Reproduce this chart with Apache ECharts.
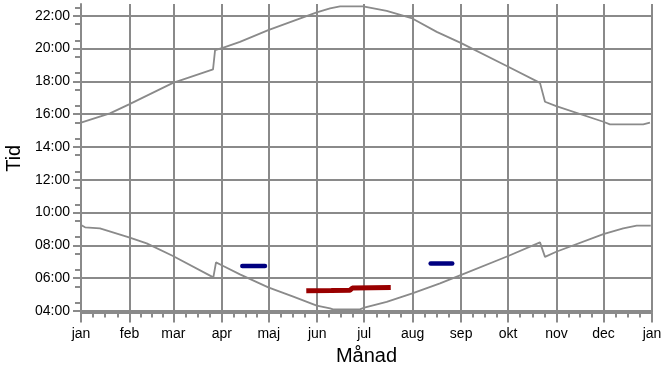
<!DOCTYPE html>
<html>
<head>
<meta charset="utf-8">
<script src="https://cdn.jsdelivr.net/npm/echarts@6/dist/echarts.min.js"></script>
<style>
  html, body { margin: 0; padding: 0; background: #fff; }
  #main { width: 662px; height: 367px; }
</style>
</head>
<body>
<div id="main"></div>
<script>
// dag på året (0 = 1 jan), tid i timmar
var monthStarts = [0, 31, 59, 90, 120, 151, 181, 212, 243, 273, 304, 334, 365];
var monthLabels = ['jan', 'feb', 'mar', 'apr', 'maj', 'jun', 'jul', 'aug', 'sep', 'okt', 'nov', 'dec', 'jan'];
var hourTicks = [4, 6, 8, 10, 12, 14, 16, 18, 20, 22];

// solnedgång
var sunset = [
    [0, 15.48], [18.5, 16.05], [30.7, 16.6], [58.8, 17.91], [84.4, 18.73],
    [85.7, 19.91], [90.6, 20.05], [101.6, 20.41], [119.7, 21.13], [150.7, 22.21],
    [159.2, 22.45], [165.6, 22.57], [180.3, 22.57], [195.4, 22.3], [211.8, 21.84],
    [227.4, 21.02], [242.7, 20.35], [273.1, 18.89], [293.4, 17.91], [296.6, 16.76],
    [303.8, 16.49], [333.9, 15.54], [338.1, 15.38], [359.4, 15.38], [363.7, 15.48]
];

// soluppgång
var sunrise = [
    [0, 9.24], [2.6, 9.1], [12.1, 9.04], [30.7, 8.49], [42, 8.12], [58.8, 7.35],
    [84.6, 6.05], [86.3, 6.96], [90.6, 6.76], [101.6, 6.23], [119.7, 5.44],
    [135.7, 4.87], [150.7, 4.32], [159.2, 4.16], [161.1, 4.1], [178.3, 4.1],
    [181.1, 4.2], [195.4, 4.56], [211.8, 5.07], [229.5, 5.68], [242.7, 6.19],
    [273.1, 7.35], [293.4, 8.18], [296.6, 7.3], [303.8, 7.61], [333.9, 8.69],
    [346.6, 9.04], [355.2, 9.2], [364.2, 9.2]
];

var blueSpring = [[103.1, 6.74], [117.6, 6.74]];
var blueAutumn = [[223.5, 6.9], [237.3, 6.9]];
var redSummer = [[144, 5.23], [160, 5.25], [172, 5.27], [173.5, 5.4], [186, 5.42], [198, 5.43]];

var minorDays = [];
for (let i = 0; i < 12; i++) {
    let len = monthStarts[i + 1] - monthStarts[i];
    for (let k = 1; k < 4; k++) {
        minorDays.push(monthStarts[i] + len * k / 4);
    }
}
var minorHours = [];
for (let h = 4.5; h <= 22.5; h += 1) {
    minorHours.push(h);
}

var gridGray = '#8a8a8a';
var font = 'Liberation Sans';

var myChart = echarts.init(document.getElementById('main'));

var option = {
    animation: false,
    grid: { left: 81, right: 10, top: 4, bottom: 54.4, containLabel: false, outerBoundsMode: 'none' },
    xAxis: [
        {
            type: 'value',
            min: 0,
            max: 365,
            position: 'bottom',
            name: 'Månad',
            nameLocation: 'middle',
            nameGap: 34,
            nameTextStyle: { fontFamily: font, fontSize: 20, color: '#000' },
            axisLine: { show: true, lineStyle: { color: gridGray, width: 2 } },
            axisTick: { show: true, customValues: monthStarts, length: 10, lineStyle: { color: gridGray, width: 2 } },
            axisLabel: {
                customValues: monthStarts,
                margin: 15,
                fontFamily: font,
                fontSize: 14,
                color: '#000',
                formatter: function (v) {
                    return monthLabels[monthStarts.indexOf(v)];
                }
            },
            splitLine: { show: true, lineStyle: { color: gridGray, width: 2 } }
        },
        {
            type: 'value',
            min: 0,
            max: 365,
            position: 'bottom',
            axisLine: { show: false },
            axisTick: { show: true, customValues: minorDays, length: 5, lineStyle: { color: gridGray, width: 2 } },
            axisLabel: { show: false },
            splitLine: { show: false }
        }
    ],
    yAxis: [
        {
            type: 'value',
            min: 3.9,
            max: 22.72,
            position: 'left',
            name: 'Tid',
            nameLocation: 'middle',
            nameGap: 54,
            nameRotate: 90,
            nameTextStyle: { fontFamily: font, fontSize: 20, color: '#000' },
            axisLine: { show: true, lineStyle: { color: gridGray, width: 2 } },
            axisTick: { show: true, customValues: hourTicks, length: 8, lineStyle: { color: gridGray, width: 2 } },
            axisLabel: {
                customValues: hourTicks,
                margin: 11,
                fontFamily: font,
                fontSize: 14,
                color: '#000',
                formatter: function (v) {
                    return (v < 10 ? '0' : '') + v + ':00';
                }
            },
            splitLine: { show: true, lineStyle: { color: gridGray, width: 2 } }
        },
        {
            type: 'value',
            min: 3.9,
            max: 22.72,
            position: 'left',
            axisLine: { show: false },
            axisTick: { show: true, customValues: minorHours, length: 6, lineStyle: { color: gridGray, width: 2 } },
            axisLabel: { show: false },
            splitLine: { show: false }
        }
    ],
    series: [
        {
            name: 'Solnedgång',
            type: 'line',
            data: sunset,
            showSymbol: false,
            lineStyle: { color: '#8a8a8a', width: 1.8 }
        },
        {
            name: 'Soluppgång',
            type: 'line',
            data: sunrise,
            showSymbol: false,
            lineStyle: { color: '#8a8a8a', width: 1.8 }
        },
        {
            name: 'Blå vår',
            type: 'line',
            data: blueSpring,
            showSymbol: false,
            lineStyle: { color: '#000080', width: 4.5, cap: 'round' }
        },
        {
            name: 'Blå höst',
            type: 'line',
            data: blueAutumn,
            showSymbol: false,
            lineStyle: { color: '#000080', width: 4.5, cap: 'round' }
        },
        {
            name: 'Röd sommar',
            type: 'line',
            data: redSummer,
            showSymbol: false,
            lineStyle: { color: '#990000', width: 5 }
        }
    ]
};

myChart.setOption(option);
</script>
</body>
</html>
